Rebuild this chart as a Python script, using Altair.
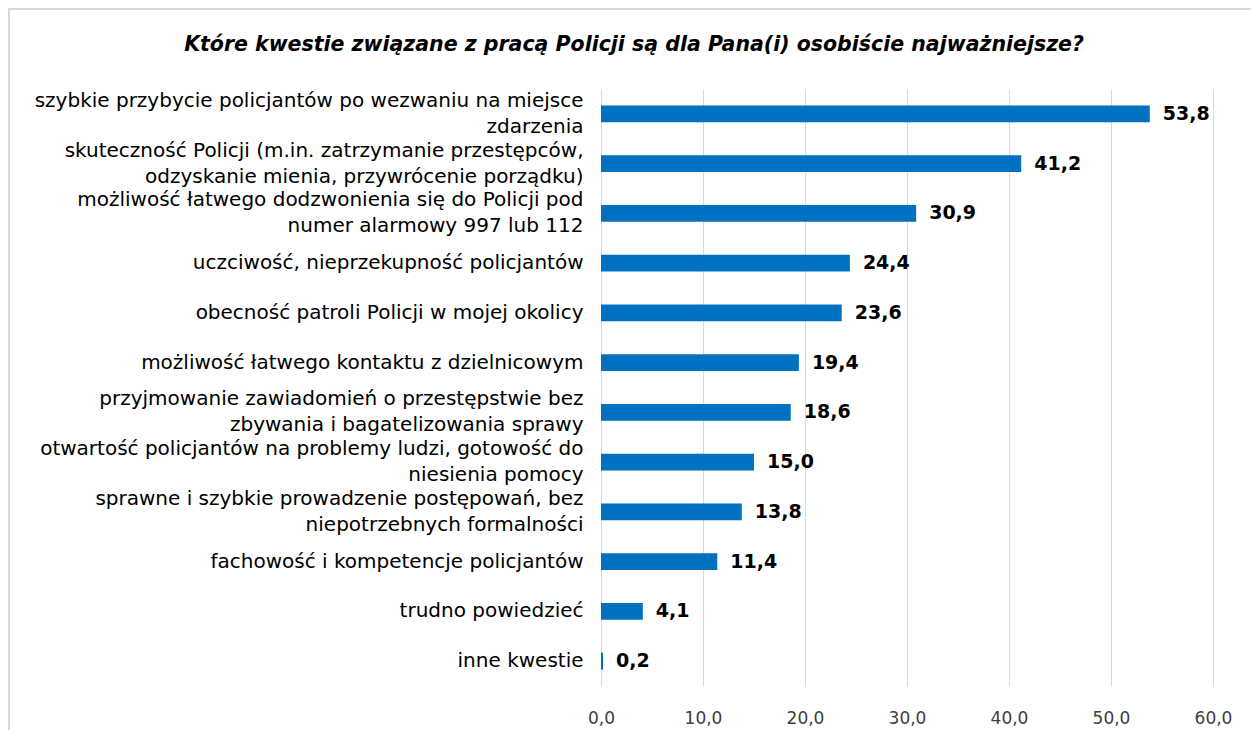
import altair as alt
import pandas as pd

categories = [
    "szybkie przybycie policjantów po wezwaniu na miejsce|zdarzenia",
    "skuteczność Policji (m.in. zatrzymanie przestępców,|odzyskanie mienia, przywrócenie porządku)",
    "możliwość łatwego dodzwonienia się do Policji pod|numer alarmowy 997 lub 112",
    "uczciwość, nieprzekupność policjantów",
    "obecność patroli Policji w mojej okolicy",
    "możliwość łatwego kontaktu z dzielnicowym",
    "przyjmowanie zawiadomień o przestępstwie bez|zbywania i bagatelizowania sprawy",
    "otwartość policjantów na problemy ludzi, gotowość do|niesienia pomocy",
    "sprawne i szybkie prowadzenie postępowań, bez|niepotrzebnych formalności",
    "fachowość i kompetencje policjantów",
    "trudno powiedzieć",
    "inne kwestie",
]
values = [53.8, 41.2, 30.9, 24.4, 23.6, 19.4, 18.6, 15.0, 13.8, 11.4, 4.1, 0.2]
x_ticks = [0, 10, 20, 30, 40, 50, 60]
title_text = "Które kwestie związane z pracą Policji są dla Pana(i) osobiście najważniejsze?"

df = pd.DataFrame({"kwestia": categories, "procent": values})

FONT = "DejaVu Sans"

base = alt.Chart(df).transform_calculate(
    etykieta="replace(format(datum.procent, '.1f'), '.', ',')"
).encode(
    y=alt.Y(
        "kwestia:N",
        sort=categories,
        title=None,
        scale=alt.Scale(paddingInner=0.66, paddingOuter=0.33),
        axis=alt.Axis(
            labelExpr="split(datum.label, '|')",
            labelFont=FONT,
            labelFontSize=20,
            labelColor="#000000",
            labelLineHeight=26,
            labelPadding=18,
            labelLimit=700,
            labelOffset={
                "condition": {"test": "indexof(datum.label, '|') >= 0", "value": -13},
                "value": 0,
            },
            ticks=False,
            domainColor="#D9D9D9",
            domainWidth=1,
            grid=False,
        ),
    )
)

bars = base.mark_bar(color="#0070C0").encode(
    x=alt.X(
        "procent:Q",
        title=None,
        scale=alt.Scale(domain=[0, 60], nice=False),
        axis=alt.Axis(
            values=x_ticks,
            labelExpr="replace(format(datum.value, '.1f'), '.', ',')",
            labelFont=FONT,
            labelFontSize=17,
            labelColor="#404040",
            labelPadding=24,
            labelFlush=False,
            grid=True,
            gridColor="#D9D9D9",
            domain=False,
            ticks=False,
        ),
    )
)

texts = base.mark_text(
    align="left", baseline="middle", dx=13, font=FONT, fontSize=19,
    fontWeight="bold", color="#000000"
).encode(x="procent:Q", text="etykieta:N")

frame = alt.Chart(pd.DataFrame({"f": [0]})).mark_rect(
    fillOpacity=0, stroke="#D9D9D9", strokeWidth=2
).encode(
    x=alt.value(-592), x2=alt.value(700), y=alt.value(-80), y2=alt.value(700)
)

chart = alt.layer(frame, bars, texts).properties(
    width=612,
    height=597,
    autosize=alt.AutoSizeParams(type="none"),
    padding={"left": 593, "top": 81, "right": 38, "bottom": 44},
    title=alt.TitleParams(
        text=title_text,
        font=FONT,
        fontSize=20.5,
        fontStyle="italic",
        fontWeight="bold",
        color="#000000",
        anchor="middle",
        baseline="alphabetic",
        dx=-273,
        offset=-63,
    ),
).configure_view(stroke=None)

chart.save("out.html", embed_options={"renderer": "svg", "actions": False})
